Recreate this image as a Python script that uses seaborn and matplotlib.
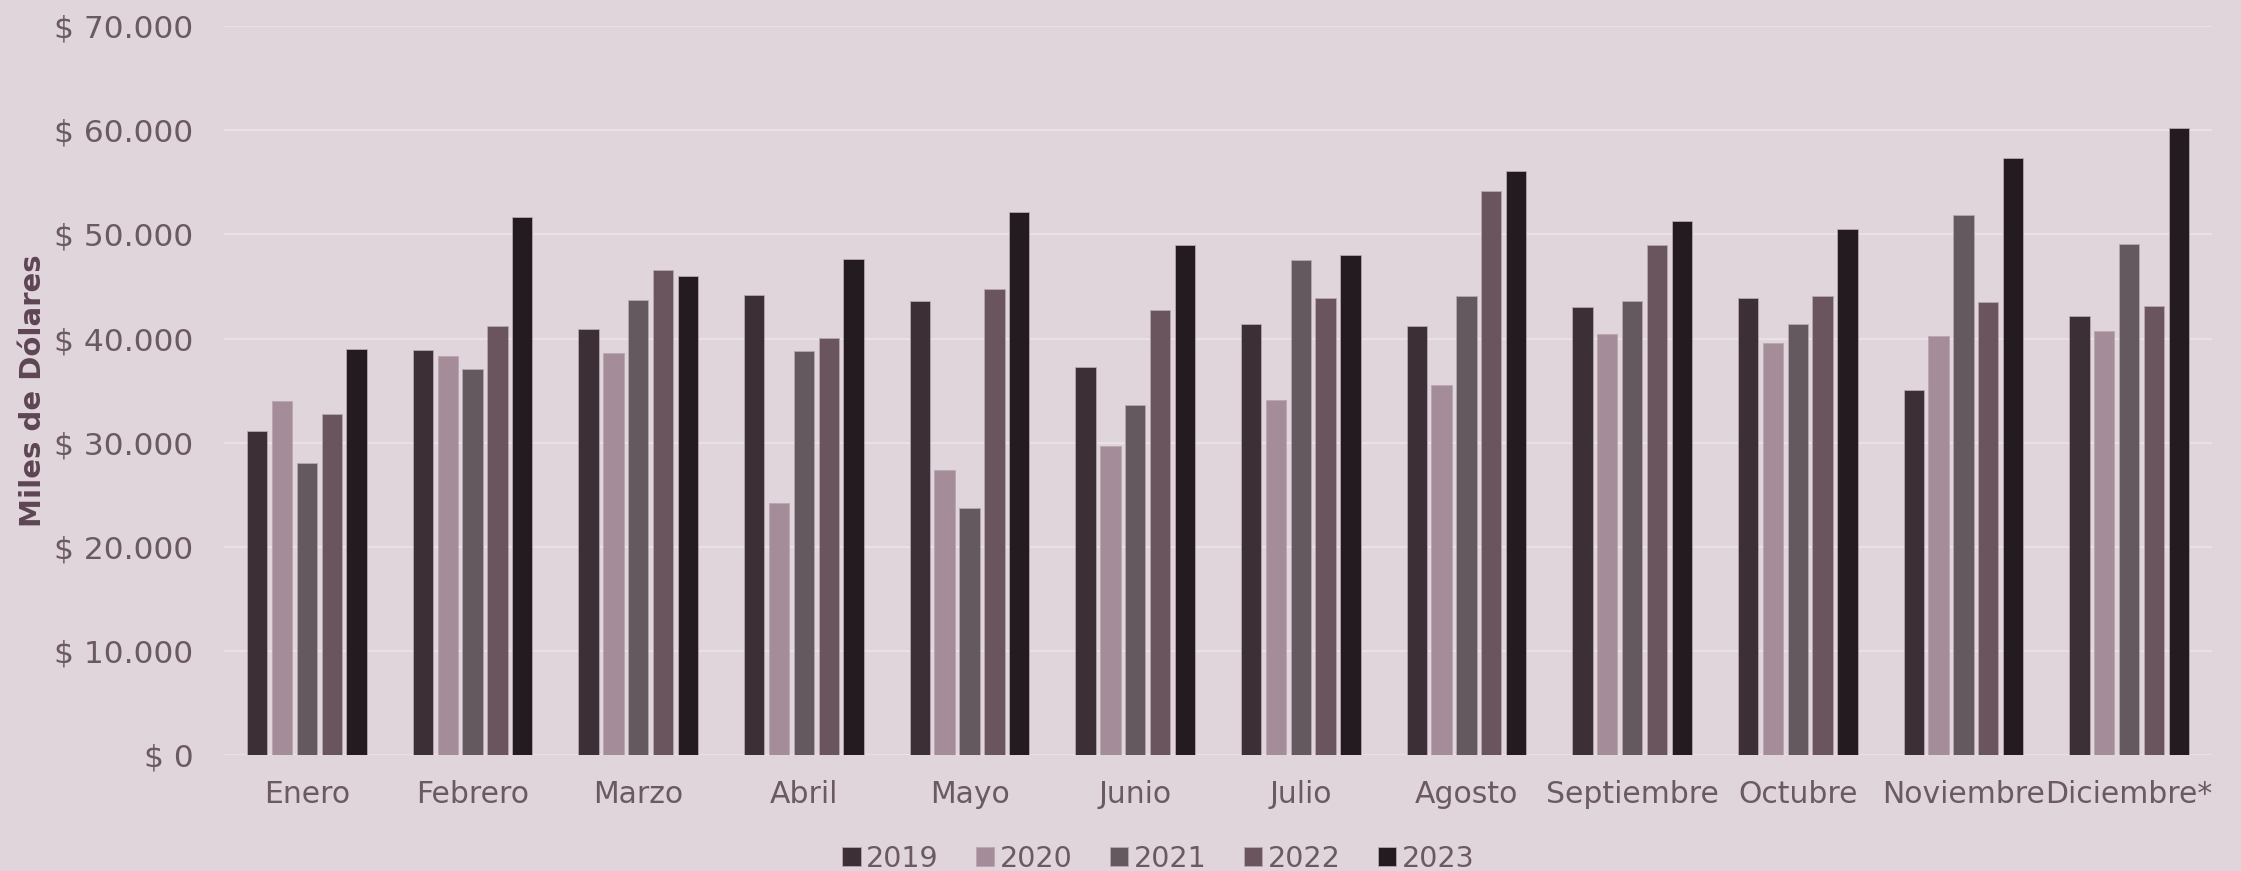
import numpy as np
import pandas as pd
import seaborn as sns
import matplotlib.pyplot as plt
from matplotlib.ticker import FuncFormatter

meses = ["Enero", "Febrero", "Marzo", "Abril", "Mayo", "Junio", "Julio",
         "Agosto", "Septiembre", "Octubre", "Noviembre", "Diciembre*"]
anios = ["2019", "2020", "2021", "2022", "2023"]

# miles de dolares por mes
v2019 = [31100, 38900, 40900, 44200, 43600, 37300, 41400, 41200, 43000, 43900, 35100, 42200]
v2020 = [34000, 38300, 38600, 24200, 27400, 29700, 34100, 35500, 40400, 39600, 40200, 40700]
v2021 = [28100, 37100, 43700, 38800, 23700, 33600, 47500, 44100, 43600, 41400, 51900, 49100]
v2022 = [32800, 41200, 46600, 40100, 44800, 42700, 43900, 54200, 49000, 44100, 43500, 43100]
v2023 = [39000, 51700, 46000, 47600, 52200, 49000, 48000, 56100, 51300, 50500, 57300, 60200]

colores = ["#3e2e36", "#a88898", "#65575e", "#6e505e", "#251a20"]
fondo = "#dfd5db"
texto = "#6b5a63"

df = pd.DataFrame({"Mes": meses * 5,
                   "Año": np.repeat(anios, len(meses)),
                   "Valor": v2019 + v2020 + v2021 + v2022 + v2023})

sns.set_style("white")
plt.rcParams['font.family'] = ['DejaVu Sans']

fig = plt.figure(figsize=(22.41, 8.71), dpi=100, facecolor=fondo)
ax = fig.add_axes([0.100, 0.133, 0.887, 0.837])
ax.set_facecolor(fondo)

sns.barplot(data=df, x="Mes", y="Valor", hue="Año", palette=colores,
            width=0.75, gap=0.18, edgecolor="#b8a6b0", linewidth=0.6, ax=ax)

ax.set_ylim(0, 70000)
ax.set_xlim(-0.5, len(meses) - 0.5)
ax.set_yticks(range(0, 70001, 10000))
ax.yaxis.set_major_formatter(FuncFormatter(lambda v, p: "$ " + f"{int(v):,}".replace(",", ".")))
ax.grid(axis="y", color="#e9e1e6", linewidth=1.5)
ax.set_axisbelow(True)
for s in ax.spines.values():
    s.set_visible(False)
ax.tick_params(axis="x", length=0, labelsize=21.5, labelcolor=texto, pad=18)
ax.tick_params(axis="y", length=0, labelsize=22.5, labelcolor=texto, pad=22)
ax.set_xlabel("")
ax.set_ylabel("Miles de Dólares", fontsize=21, fontweight="bold", color="#5e4553",
              family=["Liberation Sans Narrow", "DejaVu Sans"])

leg = ax.legend(loc="upper center", bbox_to_anchor=(0.47, -0.088), ncol=5, frameon=False,
                fontsize=20.5, handlelength=0.65, handleheight=0.65, handletextpad=0.2,
                columnspacing=1.3, labelcolor=texto)
ax.yaxis.set_label_coords(-0.089, 0.5)

fig.savefig("out.png", dpi=100, facecolor=fondo)
